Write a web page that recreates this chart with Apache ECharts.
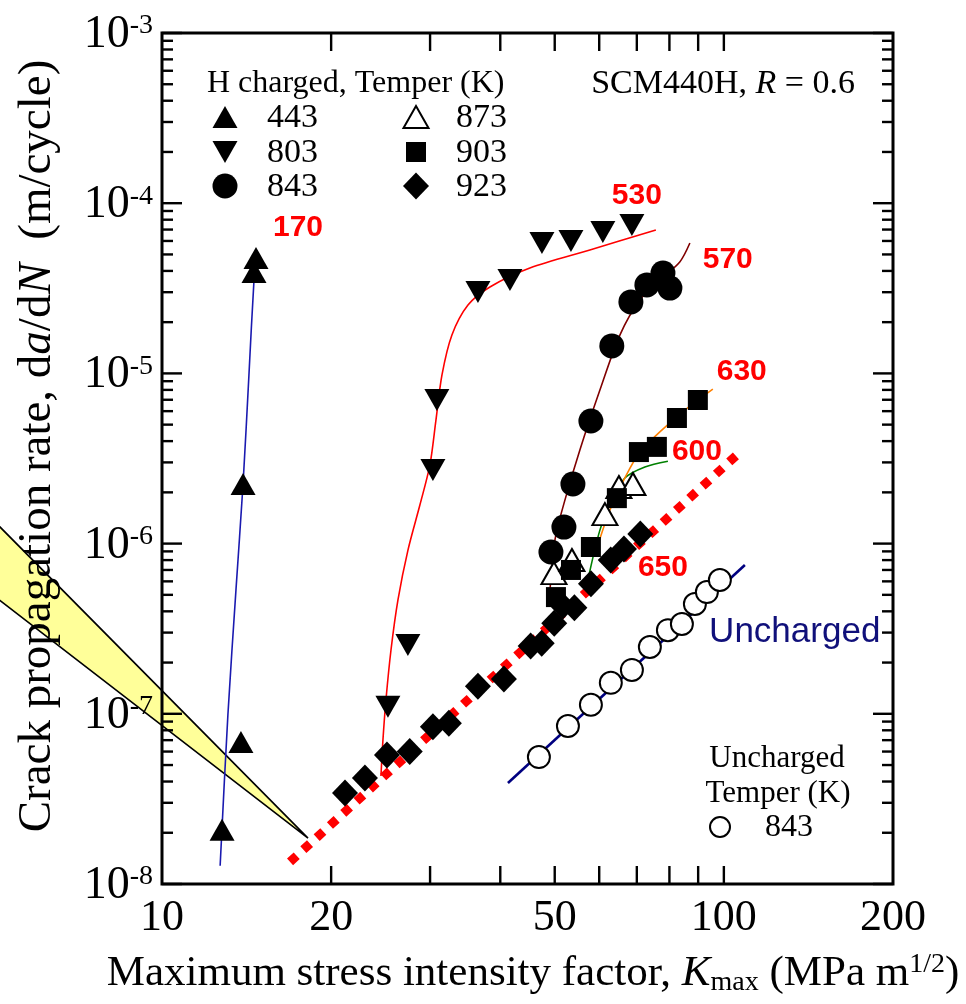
<!DOCTYPE html>
<html>
<head>
<meta charset="utf-8">
<script src="https://cdn.jsdelivr.net/npm/echarts@6/dist/echarts.min.js"></script>
<style>
  html, body { margin: 0; padding: 0; background: #ffffff; }
  #chart { width: 966px; height: 1004px; }
</style>
</head>
<body>
<div id="chart"></div>
<script>
// Fatigue crack growth of SCM440H, hydrogen charged vs. uncharged, R = 0.6.
// Kmax in MPa m^1/2, da/dN in m/cycle, grouped by tempering temperature (K).

// ---- measured points ----
const t443K = [12.79, 13.82, 13.94, 14.58, 14.70];
const t443V = [2.08e-8, 6.83e-8, 2.24e-6, 3.94e-5, 4.76e-5];

const t803K = [25.24, 27.39, 30.35, 30.85, 36.50, 41.62, 47.45, 53.44, 60.90, 68.60];
const t803V = [1.10e-7, 2.54e-7, 2.71e-6, 6.98e-6, 3.01e-5, 3.54e-5, 5.84e-5, 6.00e-5, 6.77e-5, 7.45e-5];

const t843K = [49.23, 51.92, 53.87, 57.99, 63.18, 68.32, 72.94, 77.91, 80.16];
const t843V = [8.93e-7, 1.25e-6, 2.24e-6, 5.25e-6, 1.45e-5, 2.63e-5, 3.31e-5, 3.89e-5, 3.17e-5];

const t873K = [49.84, 53.65, 61.42, 65.04, 68.89];
const t873V = [6.71e-7, 8.01e-7, 1.49e-6, 2.15e-6, 2.24e-6];

const t903K = [50.25, 53.44, 57.99, 64.50, 70.60, 75.99, 82.50, 89.89];
const t903V = [4.85e-7, 7.00e-7, 9.55e-7, 1.85e-6, 3.45e-6, 3.70e-6, 5.47e-6, 6.98e-6];

const t923K = [21.17, 22.97, 25.14, 27.60, 30.35, 32.40, 36.50, 40.60, 45.30, 47.40, 49.90, 51.70, 54.20, 58.00, 62.90, 66.40, 71.00];
const t923V = [3.43e-8, 4.20e-8, 5.73e-8, 6.00e-8, 8.40e-8, 8.80e-8, 1.45e-7, 1.60e-7, 2.50e-7, 2.60e-7, 3.40e-7, 4.30e-7, 4.20e-7, 5.80e-7, 8.00e-7, 9.30e-7, 1.14e-6];

const unchK = [46.86, 52.78, 57.99, 62.92, 68.60, 73.84, 79.51, 84.20, 88.81, 93.28, 98.38];
const unchV = [5.57e-8, 8.48e-8, 1.13e-7, 1.52e-7, 1.81e-7, 2.47e-7, 3.10e-7, 3.37e-7, 4.42e-7, 5.19e-7, 6.11e-7];

// ---- trend curves ----
const fit443K = [12.69, 13.10, 13.54, 13.94, 14.28, 14.58, 14.75];
const fit443V = [1.28e-8, 9.84e-8, 5.33e-7, 2.24e-6, 9.79e-6, 3.54e-5, 5.31e-5];

const fit803K = [24.53, 24.73, 25.04, 25.56, 26.30, 27.40, 28.78, 29.98, 30.73, 31.50, 32.81, 35.04, 38.34, 45.16, 57.74, 75.68];
const fit803V = [4.31e-8, 7.02e-8, 1.21e-7, 2.37e-7, 4.67e-7, 9.16e-7, 1.69e-6, 2.90e-6, 5.32e-6, 9.79e-6, 1.68e-5, 2.52e-5, 3.22e-5, 4.16e-5, 5.31e-5, 6.96e-5];

const fit843K = [48.83, 50.05, 52.13, 55.43, 60.17, 65.30, 70.87, 76.92, 83.47, 87.00];
const fit843V = [4.36e-7, 1.05e-6, 1.80e-6, 3.55e-6, 7.98e-6, 1.68e-5, 2.70e-5, 3.54e-5, 4.52e-5, 5.84e-5];

const fit873K = [57.28, 60.17, 63.18, 66.65, 72.35, 79.51];
const fit873V = [6.11e-7, 1.20e-6, 1.80e-6, 2.43e-6, 2.82e-6, 3.05e-6];

const fit903K = [59.68, 62.67, 66.65, 70.87, 76.92, 85.22, 95.58];
const fit903V = [9.81e-7, 1.57e-6, 2.43e-6, 3.45e-6, 4.53e-6, 6.09e-6, 8.09e-6];

const fit923K = [16.90, 105.5];
const fit923V = [1.35e-8, 3.32e-6];

const fitUnchK = [41.28, 109.0];
const fitUnchV = [3.92e-8, 7.48e-7];

// ---- hardness annotations ----
const hvText = ['170', '530', '570', '630', '600', '650'];
const hvK = [17.46, 69.99, 101.6, 107.6, 89.55, 77.91];
const hvV = [7.15e-5, 1.10e-4, 4.64e-5, 1.02e-5, 3.45e-6, 7.19e-7];

// ---- threshold callout wedge ----
const wedgeK = [5.0, 18.19, 5.0];
const wedgeV = [1.38e-6, 1.86e-8, 4.99e-7];

// ---- axes ----
const xTicks = [20, 30, 40, 50, 60, 70, 80, 90, 100];
const xTickLabels = [10, 20, 50, 100, 200];
const yDecadeExp = [-8, -7, -6, -5, -4, -3];
const yMinorMult = [2, 3, 4, 5, 6, 7, 8, 9];

const legendChargedTitle = 'H charged, Temper (K)';
const legendCharged = ['443', '803', '843', '873', '903', '923'];
const legendUnchargedTitle = ['Uncharged', 'Temper (K)'];
const legendUncharged = ['843'];

const SERIF = 'Liberation Serif';
const SANS = 'Liberation Sans';

const X_MIN = 10, X_MAX = 200, Y_MIN = 1e-8, Y_MAX = 1e-3;

const pairs = (ks, vs) => ks.map((k, i) => [k, vs[i]]);

const yMajor = yDecadeExp.map(e => Math.pow(10, e));
const yMinor = [];
yDecadeExp.slice(0, -1).forEach(e => yMinorMult.forEach(m => yMinor.push(m * Math.pow(10, e))));

// marker look per temper
const marker = {
  '443': { symbol: 'triangle', size: [25, 22], rotate: 0, fill: '#000' },
  '803': { symbol: 'triangle', size: [25, 22], rotate: 180, fill: '#000' },
  '843': { symbol: 'circle', size: 25, rotate: 0, fill: '#000' },
  '873': { symbol: 'triangle', size: [25, 22], rotate: 0, fill: '#fff' },
  '903': { symbol: 'rect', size: 20, rotate: 0, fill: '#000' },
  '923': { symbol: 'diamond', size: [26, 27], rotate: 0, fill: '#000' },
  'unch': { symbol: 'circle', size: 22, rotate: 0, fill: '#fff' }
};

function scatter(name, ks, vs, m) {
  return {
    name, type: 'scatter', z: 4,
    data: pairs(ks, vs),
    symbol: m.symbol, symbolSize: m.size, symbolRotate: m.rotate,
    itemStyle: { color: m.fill, borderColor: '#000', borderWidth: m.fill === '#fff' ? 2 : 0, opacity: 1 },
    silent: true
  };
}

function fit(ks, vs, color, width, extra) {
  return Object.assign({
    type: 'line', z: 3, silent: true,
    data: pairs(ks, vs), showSymbol: false, symbol: 'none',
    smooth: ks.length > 2 ? 0.3 : false,
    lineStyle: { color, width }
  }, extra || {});
}

// axis ticks pointing inward on both sides of the frame
function tickSeries(data, dir, len) {
  return {
    type: 'custom', z: 6, silent: true, data,
    renderItem(params, api) {
      const cs = params.coordSys;
      const p = api.coord([api.value(0), api.value(1)]);
      const st = { stroke: '#000', lineWidth: 2.4 };
      if (dir === 'x') {
        const b = cs.y + cs.height, t = cs.y;
        return { type: 'group', children: [
          { type: 'line', shape: { x1: p[0], y1: b, x2: p[0], y2: b - len }, style: st },
          { type: 'line', shape: { x1: p[0], y1: t, x2: p[0], y2: t + len }, style: st }
        ] };
      }
      const l = cs.x, r = cs.x + cs.width;
      return { type: 'group', children: [
        { type: 'line', shape: { x1: l, y1: p[1], x2: l + len, y2: p[1] }, style: st },
        { type: 'line', shape: { x1: r, y1: p[1], x2: r - len, y2: p[1] }, style: st }
      ] };
    }
  };
}

const xLabelSeries = {
  type: 'custom', z: 6, silent: true,
  data: xTickLabels.map(v => [v, Y_MIN]),
  renderItem(params, api) {
    const cs = params.coordSys;
    const p = api.coord([api.value(0), api.value(1)]);
    return { type: 'text', x: p[0], y: cs.y + cs.height + 34,
      style: { text: String(api.value(0)), fontFamily: SERIF, fontSize: 44, fill: '#000', align: 'center', verticalAlign: 'middle' } };
  }
};

const yLabelSeries = {
  type: 'custom', z: 6, silent: true,
  data: yMajor.map(v => [X_MIN, v]),
  renderItem(params, api) {
    const cs = params.coordSys;
    const p = api.coord([api.value(0), api.value(1)]);
    const e = yDecadeExp[params.dataIndex];
    return { type: 'text', x: cs.x - 9, y: p[1] + 2,
      style: {
        text: '{b|10}{s|' + e + '}', align: 'right', verticalAlign: 'middle',
        rich: {
          b: { fontFamily: SERIF, fontSize: 46, lineHeight: 46, fill: '#000' },
          s: { fontFamily: SERIF, fontSize: 28, lineHeight: 8, verticalAlign: 'top', fill: '#000' }
        }
      } };
  }
};

const wedgeSeries = {
  type: 'custom', z: 2, silent: true,
  data: pairs(wedgeK, wedgeV),
  renderItem(params, api) {
    if (params.dataIndex !== 0) return null;
    const pts = wedgeK.map((k, i) => api.coord([k, wedgeV[i]]));
    return { type: 'polygon', shape: { points: pts },
      style: { fill: '#ffff99', stroke: '#000', lineWidth: 1.6 } };
  }
};

const hvSeries = {
  type: 'custom', z: 7, silent: true,
  data: pairs(hvK, hvV),
  renderItem(params, api) {
    const p = api.coord([api.value(0), api.value(1)]);
    return { type: 'text', x: p[0], y: p[1],
      style: { text: hvText[params.dataIndex], fontFamily: SANS, fontWeight: 'bold', fontSize: 30,
        fill: '#ff0000', align: 'center', verticalAlign: 'middle' } };
  }
};

const unchLabelSeries = {
  type: 'custom', z: 7, silent: true,
  data: [[133.7, 3.03e-7]],
  renderItem(params, api) {
    const p = api.coord([api.value(0), api.value(1)]);
    return { type: 'text', x: p[0], y: p[1],
      style: { text: 'Uncharged', fontFamily: SANS, fontSize: 35, fill: '#10107a', align: 'center', verticalAlign: 'middle' } };
  }
};

// legend glyphs drawn as plain shapes
function glyph(key, cx, cy) {
  const m = marker[key];
  const stroke = m.fill === '#fff' ? { stroke: '#000', lineWidth: 2 } : {};
  const style = Object.assign({ fill: m.fill }, stroke);
  if (m.symbol === 'circle') return { type: 'circle', shape: { cx, cy, r: m.size / 2 - (stroke.lineWidth ? 1 : 0) }, style };
  if (m.symbol === 'rect') return { type: 'rect', shape: { x: cx - m.size / 2, y: cy - m.size / 2, width: m.size, height: m.size }, style };
  const w = m.size[0] / 2, h = m.size[1] / 2;
  let pts;
  if (m.symbol === 'diamond') pts = [[cx, cy - h], [cx + w, cy], [cx, cy + h], [cx - w, cy]];
  else if (m.rotate === 180) pts = [[cx - w, cy - h], [cx + w, cy - h], [cx, cy + h]];
  else pts = [[cx, cy - h], [cx + w, cy + h], [cx - w, cy + h]];
  return { type: 'polygon', shape: { points: pts }, style };
}

function label(text, x, y, size, align, rich) {
  const style = { text, fontFamily: SERIF, fontSize: size, fill: '#000', align: align || 'left', verticalAlign: 'middle' };
  if (rich) style.rich = rich;
  return { type: 'text', x, y, z: 10, style };
}

const graphics = [];
graphics.push(label(legendChargedTitle, 207, 84, 32));
graphics.push(label('{t|SCM440H, }{i|R}{t| = 0.6}', 855, 84, 34, 'right', {
  t: { fontFamily: SERIF, fontSize: 34 },
  i: { fontFamily: SERIF, fontSize: 34, fontStyle: 'italic' }
}));
const rowY = [117, 152, 186];
legendCharged.forEach((t, i) => {
  const col = Math.floor(i / 3), row = i % 3;
  const gx = col === 0 ? 225 : 416;
  const tx = col === 0 ? 267 : 456;
  graphics.push(Object.assign(glyph(t, gx, rowY[row]), { z: 10 }));
  graphics.push(label(t, tx, rowY[row] + 1, 34));
});
graphics.push(label(legendUnchargedTitle[0], 777, 759, 31, 'center'));
graphics.push(label(legendUnchargedTitle[1], 778, 794, 31, 'center'));
graphics.push(Object.assign(glyph('unch', 720, 827), { z: 10 }));
graphics.push(label(legendUncharged[0], 765, 828, 32));

// axis titles
graphics.push(label('{t|Maximum stress intensity factor, }{i|K}{sub|max}{t| (MPa m}{sup|1/2}{t|)}', 533, 974, 43, 'center', {
  t: { fontFamily: SERIF, fontSize: 43, lineHeight: 46 },
  i: { fontFamily: SERIF, fontSize: 43, lineHeight: 46, fontStyle: 'italic' },
  sub: { fontFamily: SERIF, fontSize: 28, lineHeight: 18, verticalAlign: 'bottom' },
  sup: { fontFamily: SERIF, fontSize: 28, lineHeight: 16, verticalAlign: 'top' }
}));
const yTitle = label('{t|Crack propagation rate, d}{i|a}{t|/d}{i|N}{t|  (m/cycle)}', 38, 446, 47, 'center', {
  t: { fontFamily: SERIF, fontSize: 47 },
  i: { fontFamily: SERIF, fontSize: 47, fontStyle: 'italic' }
});
yTitle.rotation = Math.PI / 2;
graphics.push(yTitle);

const chart = echarts.init(document.getElementById('chart'), null, { renderer: 'canvas' });
chart.setOption({
  animation: false,
  backgroundColor: '#ffffff',
  grid: { left: 162, top: 33, width: 731, height: 851, show: true, borderColor: '#000', borderWidth: 3, backgroundColor: 'transparent', z: 5 },
  xAxis: { type: 'log', logBase: 10, min: X_MIN, max: X_MAX,
    axisLine: { show: false }, axisTick: { show: false }, axisLabel: { show: false }, splitLine: { show: false } },
  yAxis: { type: 'log', logBase: 10, min: Y_MIN, max: Y_MAX,
    axisLine: { show: false }, axisTick: { show: false }, axisLabel: { show: false }, splitLine: { show: false } },
  series: [
    wedgeSeries,
    fit(fit443K, fit443V, '#1a1ab0', 1.6),
    fit(fit803K, fit803V, '#ff0000', 1.6),
    fit(fit843K, fit843V, '#800000', 1.6),
    fit(fit873K, fit873V, '#008000', 1.6),
    fit(fit903K, fit903V, '#ff8000', 1.6),
    fit(fit923K, fit923V, '#ff0000', 9, { lineStyle: { color: '#ff0000', width: 9, type: [9, 9], cap: 'butt' } }),
    fit(fitUnchK, fitUnchV, '#000080', 2.6),
    scatter('443', t443K, t443V, marker['443']),
    scatter('803', t803K, t803V, marker['803']),
    scatter('843', t843K, t843V, marker['843']),
    scatter('873', t873K, t873V, marker['873']),
    scatter('903', t903K, t903V, marker['903']),
    scatter('923', t923K, t923V, marker['923']),
    scatter('843 uncharged', unchK, unchV, marker['unch']),
    tickSeries(xTicks.map(v => [v, Y_MIN]), 'x', 18),
    tickSeries(yMajor.map(v => [X_MIN, v]), 'y', 20),
    tickSeries(yMinor.map(v => [X_MIN, v]), 'y', 11),
    xLabelSeries, yLabelSeries, hvSeries, unchLabelSeries
  ],
  graphic: graphics
});
</script>
</body>
</html>
